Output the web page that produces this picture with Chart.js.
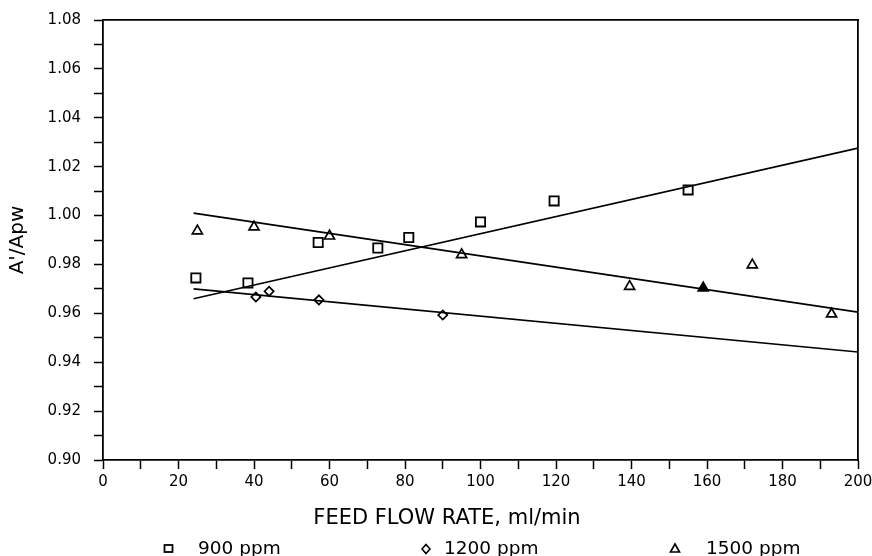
<!DOCTYPE html>
<html>
<head>
<meta charset="utf-8">
<script src="https://cdn.jsdelivr.net/npm/chart.js@4.4.1/dist/chart.umd.min.js"></script>
<style>
  html, body { margin: 0; padding: 0; background: #fff; }
  #wrap { position: relative; width: 872px; height: 556px; overflow: hidden; font-family: "DejaVu Sans", sans-serif; color: #000; }
  #chart { position: absolute; left: 0; top: 0; }
  #xtitle { position: absolute; left: 0; width: 894px; top: 507px; text-align: center; font-size: 21px; line-height: 21px; white-space: nowrap; }
  .leg { position: absolute; top: 538px; font-size: 18.5px; line-height: 19px; white-space: nowrap; }
  .mk { position: absolute; }
</style>
</head>
<body>
<div id="wrap">
  <canvas id="chart" width="872" height="556"></canvas>
  <div id="xtitle"></div>
  <svg class="mk" style="left:163px;top:543px" width="11" height="11"><rect x="1.5" y="2" width="8" height="7" fill="none" stroke="#000" stroke-width="1.8"/></svg>
  <span class="leg" id="leg0" style="left:198px"></span>
  <svg class="mk" style="left:420px;top:543px" width="12" height="12"><polygon points="6,1.5 10,6 6,10.5 2,6" fill="none" stroke="#000" stroke-width="1.6"/></svg>
  <span class="leg" id="leg1" style="left:444px"></span>
  <svg class="mk" style="left:669px;top:542px" width="12" height="12"><polygon points="6,2 10.5,10 1.5,10" fill="none" stroke="#000" stroke-width="1.7"/></svg>
  <span class="leg" id="leg2" style="left:706px"></span>
</div>
<script>
// ---- data ----
const seriesNames = ['900 ppm', '1200 ppm', '1500 ppm'];
const xAxisTitle = 'FEED FLOW RATE, ml/min';
const yAxisTitle = "A'/Apw";
const xTickLabels = ['0', '20', '40', '60', '80', '100', '120', '140', '160', '180', '200'];
const yTickLabels = ['0.90', '0.92', '0.94', '0.96', '0.98', '1.00', '1.02', '1.04', '1.06', '1.08'];

const flow900  = [24.6, 38.4, 57.0, 72.8, 81.0, 100.0, 119.5, 155.0];
const ratio900 = [0.9745, 0.9724, 0.9890, 0.9867, 0.9910, 0.9974, 1.0060, 1.0105];

const flow1200  = [40.5, 44.0, 57.2, 90.0];
const ratio1200 = [0.9667, 0.9690, 0.9655, 0.9593];

const flow1500  = [25.0, 40.0, 60.0, 95.0, 139.5, 159.0, 172.0, 193.0];
const ratio1500 = [0.9937, 0.9953, 0.9916, 0.9840, 0.9710, 0.9704, 0.9798, 0.9597];

const fitFlow = [24, 200];
const fit900  = [0.9660, 1.0276];
const fit1200 = [0.9700, 0.9442];
const fit1500 = [1.0010, 0.9605];

// ---- build ----
const pts = (xs, ys) => xs.map((x, i) => ({ x: x, y: ys[i] }));

document.getElementById('xtitle').textContent = xAxisTitle;
seriesNames.forEach((n, i) => { document.getElementById('leg' + i).textContent = n; });

const filledIndex1500 = 5;
const fill1500 = flow1500.map((_, i) => i === filledIndex1500 ? '#000' : 'rgba(0,0,0,0)');

const lineDs = (ys) => ({
  type: 'line', data: pts(fitFlow, ys), showLine: true, borderColor: '#000', borderWidth: 1.6,
  pointRadius: 0, fill: false, tension: 0
});

const fontTick = { family: 'DejaVu Sans', size: 15 };

new Chart(document.getElementById('chart'), {
  type: 'scatter',
  data: {
    datasets: [
      lineDs(fit900), lineDs(fit1200), lineDs(fit1500),
      { label: seriesNames[0], data: pts(flow900, ratio900), pointStyle: 'rect', pointRadius: 6.5,
        pointBorderWidth: 1.8, pointBorderColor: '#000', pointBackgroundColor: 'rgba(0,0,0,0)' },
      { label: seriesNames[1], data: pts(flow1200, ratio1200), pointStyle: 'rectRot', pointRadius: 4.6,
        pointBorderWidth: 1.7, pointBorderColor: '#000', pointBackgroundColor: 'rgba(0,0,0,0)' },
      { label: seriesNames[2], data: pts(flow1500, ratio1500), pointStyle: 'triangle', pointRadius: 5.8,
        pointBorderWidth: 1.7, pointBorderColor: '#000', pointBackgroundColor: fill1500 }
    ]
  },
  options: {
    responsive: false,
    animation: false,
    devicePixelRatio: 1,
    layout: { autoPadding: false, padding: { left: 0, top: 20, right: 14, bottom: 56 } },
    plugins: { legend: { display: false }, tooltip: { enabled: false } },
    scales: {
      x: {
        type: 'linear', position: 'bottom', min: 0, max: 200,
        afterFit: (s) => { s.height = 40; s.paddingRight = 0; s.paddingLeft = 0; },
        grid: { drawOnChartArea: false, drawTicks: true, tickLength: 9, tickColor: '#000', tickWidth: 1.5 },
        border: { display: true, color: '#000', width: 1.8 },
        ticks: {
          stepSize: 10, autoSkip: false, maxRotation: 0, color: '#000', font: fontTick, padding: 4,
          callback: (v) => { const i = Math.round(v / 10); return i % 2 === 0 ? xTickLabels[i / 2] : ''; }
        }
      },
      y: {
        type: 'linear', position: 'left', min: 0.90, max: 1.08,
        afterFit: (s) => { s.width = 103; s.paddingTop = 0; s.paddingBottom = 0; },
        grid: { drawOnChartArea: false, drawTicks: true, tickLength: 9, tickColor: '#000', tickWidth: 1.5 },
        border: { display: true, color: '#000', width: 1.8 },
        title: { display: true, text: yAxisTitle, color: '#000', font: { family: 'DejaVu Sans', size: 20 }, padding: { top: 6, bottom: 0 } },
        ticks: {
          stepSize: 0.01, autoSkip: false, color: '#000', font: fontTick, padding: 13,
          callback: (v) => { const i = Math.round((v - 0.90) / 0.01); return i % 2 === 0 ? yTickLabels[i / 2] : ''; }
        }
      },
      x2: {
        type: 'linear', position: 'top', min: 0, max: 200,
        afterFit: (s) => { s.height = 0; },
        grid: { display: true, drawOnChartArea: false, drawTicks: false },
        border: { display: true, color: '#000', width: 1.8 },
        ticks: { display: false }
      },
      y2: {
        type: 'linear', position: 'right', min: 0.90, max: 1.08,
        afterFit: (s) => { s.width = 0; },
        grid: { display: true, drawOnChartArea: false, drawTicks: false },
        border: { display: true, color: '#000', width: 1.8 },
        ticks: { display: false }
      }
    }
  }
});
</script>
</body>
</html>
